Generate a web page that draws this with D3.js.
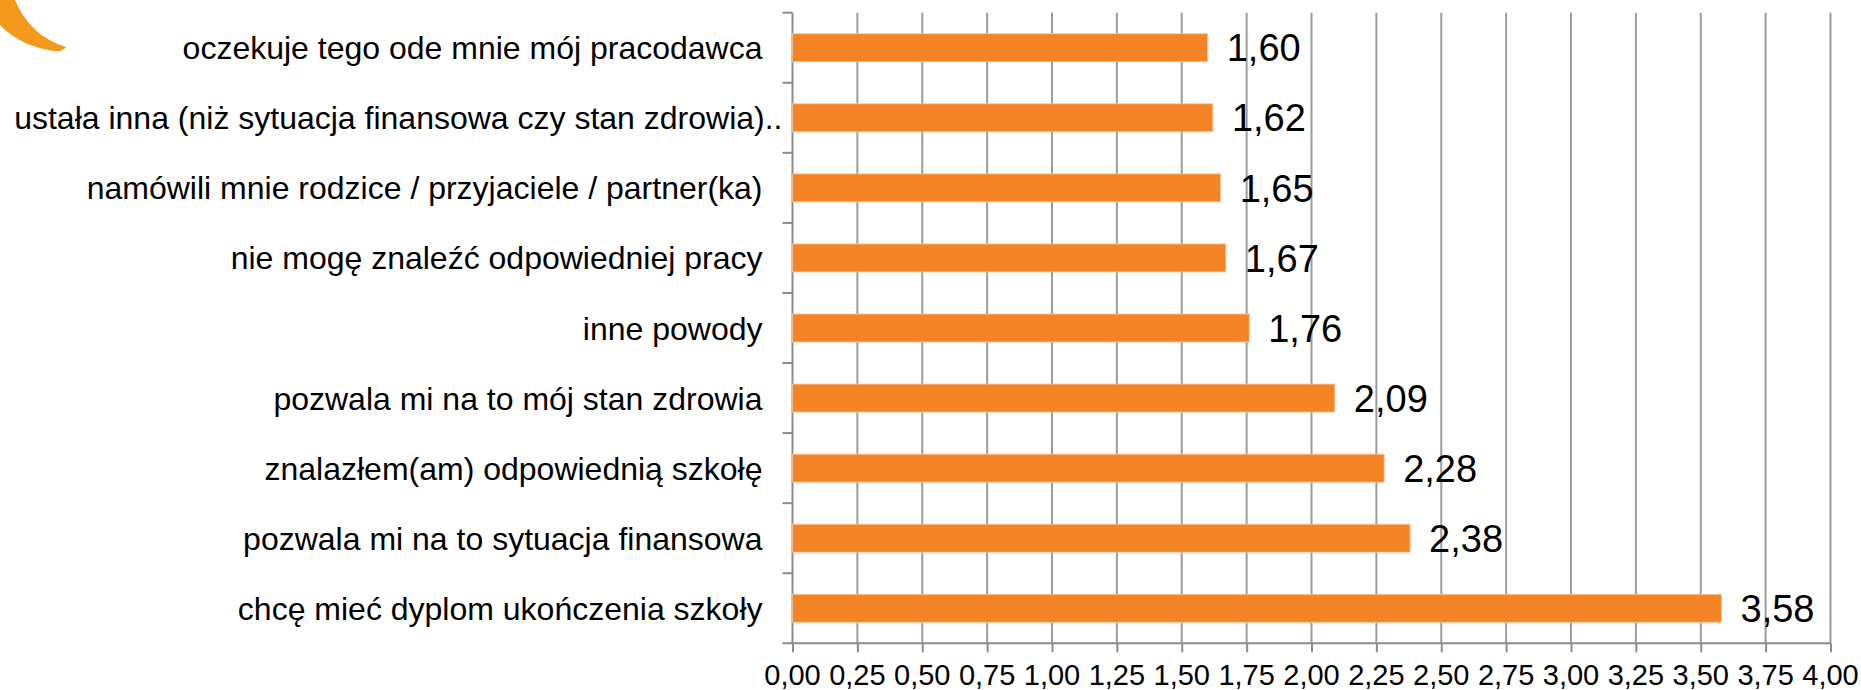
<!DOCTYPE html>
<html>
<head>
<meta charset="utf-8">
<script src="https://cdn.jsdelivr.net/npm/d3@7"></script>
<style>
  html, body { margin: 0; padding: 0; background: #fff; }
  svg { display: block; font-family: "Liberation Sans", Arial, sans-serif; }
</style>
</head>
<body>
<div id="chart"></div>
<script>
// Data (top to bottom)
const categories = [
  'oczekuje tego ode mnie mój pracodawca',
  'ustała inna (niż sytuacja finansowa czy stan zdrowia)..',
  'namówili mnie rodzice / przyjaciele / partner(ka)',
  'nie mogę znaleźć odpowiedniej pracy',
  'inne powody',
  'pozwala mi na to mój stan zdrowia',
  'znalazłem(am) odpowiednią szkołę',
  'pozwala mi na to sytuacja finansowa',
  'chcę mieć dyplom ukończenia szkoły'
];
const values = [1.60, 1.62, 1.65, 1.67, 1.76, 2.09, 2.28, 2.38, 3.58];
const xTicks = [0, 0.25, 0.5, 0.75, 1, 1.25, 1.5, 1.75, 2, 2.25, 2.5, 2.75, 3, 3.25, 3.5, 3.75, 4];

const width = 1861, height = 690;
const margin = { top: 12.7, right: 30.5, bottom: 46.7, left: 792.5 };
const fmt = v => d3.format('.2f')(v).replace('.', ',');

const svg = d3.select('#chart').append('svg')
  .attr('width', width)
  .attr('height', height);

// Decorative orange swoosh in the top-left corner
svg.append('path')
  .attr('d', 'M0,0 L15,0 Q30,36 66,47 Q63,52 54,51 Q20,46 0,25 Z')
  .attr('fill', '#f39a1e');

const x = d3.scaleLinear()
  .domain([0, 4])
  .range([margin.left, width - margin.right]);

const y = d3.scaleBand()
  .domain(categories)
  .range([margin.top, height - margin.bottom])
  .paddingInner(0.6)
  .paddingOuter(0.3);

const plotBottom = height - margin.bottom;

// Vertical gridlines
svg.append('g')
  .selectAll('line')
  .data(xTicks.slice(1))
  .join('line')
  .attr('x1', d => x(d)).attr('x2', d => x(d))
  .attr('y1', margin.top).attr('y2', plotBottom)
  .attr('stroke', '#9c9c9c')
  .attr('stroke-width', 2);

// Bottom axis (line + ticks), labels drawn separately
const xAxis = svg.append('g')
  .attr('transform', `translate(0,${plotBottom})`)
  .call(d3.axisBottom(x).tickValues(xTicks).tickFormat('').tickSize(9));
xAxis.select('.domain')
  .attr('d', `M${margin.left - 10},0H${x(4)}`)
  .attr('stroke', '#8c8c8c').attr('stroke-width', 2);
xAxis.selectAll('.tick line').attr('stroke', '#8c8c8c').attr('stroke-width', 2);

svg.append('g')
  .selectAll('text')
  .data(xTicks)
  .join('text')
  .attr('x', d => x(d))
  .attr('y', plotBottom + 42)
  .attr('text-anchor', 'middle')
  .style('font-size', '29px')
  .attr('fill', '#000')
  .text(d => fmt(d));

// Left axis with ticks at category boundaries
const bounds = d3.range(categories.length + 1).map(i => margin.top + i * (plotBottom - margin.top) / categories.length);
svg.append('line')
  .attr('x1', margin.left).attr('x2', margin.left)
  .attr('y1', margin.top).attr('y2', plotBottom)
  .attr('stroke', '#8c8c8c').attr('stroke-width', 2);
svg.append('g')
  .selectAll('line')
  .data(bounds.slice(0, -1))
  .join('line')
  .attr('x1', margin.left - 10).attr('x2', margin.left)
  .attr('y1', d => d).attr('y2', d => d)
  .attr('stroke', '#8c8c8c').attr('stroke-width', 2);

// Category labels
svg.append('g')
  .selectAll('text')
  .data(categories)
  .join('text')
  .attr('x', (d, i) => i === 1 ? margin.left - 10 : margin.left - 30)
  .attr('y', d => y(d) + y.bandwidth() / 2)
  .attr('dy', '0.36em')
  .attr('text-anchor', 'end')
  .attr('font-size', 32)
  .attr('fill', '#000')
  .text(d => d);

// Bars
svg.append('g')
  .selectAll('rect')
  .data(values)
  .join('rect')
  .attr('x', x(0))
  .attr('y', (d, i) => y(categories[i]))
  .attr('width', d => x(d) - x(0))
  .attr('height', y.bandwidth())
  .attr('fill', '#f58426')
  .attr('stroke', '#fbc9a0')
  .attr('stroke-width', 0.8);

// Value labels
svg.append('g')
  .selectAll('text')
  .data(values)
  .join('text')
  .attr('x', d => x(d) + 19)
  .attr('y', (d, i) => y(categories[i]) + y.bandwidth() / 2)
  .attr('dy', '0.36em')
  .attr('font-size', 38)
  .attr('fill', '#000')
  .text(d => fmt(d));
</script>
</body>
</html>
